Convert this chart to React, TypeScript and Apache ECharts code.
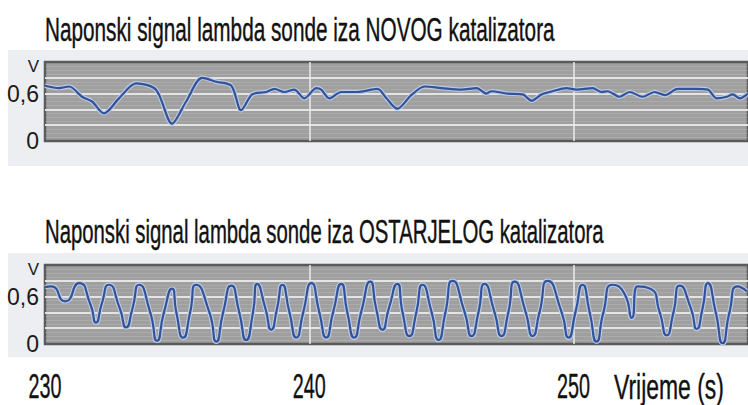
import React, { useEffect, useRef } from 'react';
import * as echarts from 'echarts';

// ---- data ----
const titles = [
  'Naponski signal lambda sonde iza NOVOG katalizatora',
  'Naponski signal lambda sonde iza OSTARJELOG katalizatora',
];
const xAxisName = 'Vrijeme (s)';
const xTickValues = [230, 240, 250];
const xTickLabels = ['230', '240', '250'];
const yTickValues = [0, 0.6, 1];
const yTickLabels = ['0', '0,6', 'V'];
const xMin = 230;
const xMax = 256.6;

// [time s, voltage V] – new catalyst
const newSignal = [
  [230.0, 0.70], [230.53, 0.67], [230.91, 0.69], [231.4, 0.56], [231.78, 0.50], [232.23, 0.35],
  [232.8, 0.54], [233.45, 0.73], [234.2, 0.65], [234.81, 0.22], [235.34, 0.50], [235.95, 0.80],
  [236.48, 0.75], [237.05, 0.70], [237.42, 0.39], [237.84, 0.59], [238.37, 0.62], [238.68, 0.66],
  [239.05, 0.62], [239.43, 0.65], [239.81, 0.54], [240.27, 0.67], [240.45, 0.65], [240.76, 0.54],
  [241.21, 0.62], [241.82, 0.62], [242.58, 0.66], [242.92, 0.54], [243.33, 0.41], [243.86, 0.58],
  [244.36, 0.69], [245.0, 0.67], [245.76, 0.65], [246.33, 0.67], [246.7, 0.60], [246.89, 0.63],
  [247.5, 0.60], [248.07, 0.59], [248.41, 0.51], [248.79, 0.59], [249.2, 0.63], [249.73, 0.67],
  [250.11, 0.65], [250.72, 0.67], [251.06, 0.62], [251.29, 0.63], [251.74, 0.56], [252.12, 0.62],
  [252.61, 0.56], [253.07, 0.62], [253.45, 0.58], [253.94, 0.66], [254.66, 0.66], [255.08, 0.65],
  [255.42, 0.54], [255.8, 0.56], [256.02, 0.59], [256.29, 0.54], [256.6, 0.60],
];

// [time s, voltage V] – aged catalyst
const oldSignal = [
  [230.0, 0.72], [230.23, 0.73], [230.76, 0.54], [231.29, 0.77],
  [231.72, 0.50], [231.93, 0.27], [232.14, 0.50], [232.42, 0.75],
  [232.83, 0.45], [233.07, 0.21], [233.31, 0.45], [233.56, 0.75],
  [233.98, 0.40], [234.24, 0.04], [234.5, 0.40], [234.81, 0.70],
  [234.97, 0.40], [235.23, 0.08], [235.49, 0.40], [235.72, 0.75],
  [236.22, 0.40], [236.48, 0.03], [236.74, 0.40], [237.05, 0.74],
  [237.35, 0.40], [237.61, 0.05], [237.87, 0.40], [238.03, 0.76],
  [238.34, 0.45], [238.56, 0.18], [238.78, 0.45], [238.98, 0.75],
  [239.25, 0.40], [239.51, 0.08], [239.77, 0.40], [240.08, 0.77],
  [240.38, 0.40], [240.64, 0.08], [240.9, 0.40], [241.21, 0.76],
  [241.44, 0.40], [241.7, 0.08], [241.96, 0.40], [242.31, 0.79],
  [242.53, 0.45], [242.77, 0.18], [243.01, 0.45], [243.33, 0.76],
  [243.53, 0.40], [243.79, 0.10], [244.05, 0.40], [244.28, 0.75],
  [244.63, 0.40], [244.89, 0.05], [245.15, 0.40], [245.42, 0.80],
  [245.88, 0.40], [246.14, 0.10], [246.4, 0.40], [246.63, 0.76],
  [247.01, 0.40], [247.27, 0.10], [247.53, 0.40], [247.77, 0.79],
  [248.19, 0.40], [248.45, 0.10], [248.71, 0.40], [249.02, 0.80],
  [249.55, 0.40], [249.81, 0.08], [250.07, 0.40], [250.34, 0.75],
  [250.61, 0.40], [250.87, 0.03], [251.13, 0.40], [251.48, 0.75],
  [251.95, 0.62], [252.2, 0.33], [252.42, 0.73], [252.9, 0.70],
  [253.26, 0.40], [253.52, 0.11], [253.78, 0.40], [254.02, 0.74],
  [254.44, 0.45], [254.66, 0.19], [254.88, 0.45], [255.08, 0.77],
  [255.38, 0.40], [255.64, 0.01], [255.9, 0.40], [256.21, 0.73],
  [256.55, 0.67],
];

// ---- helpers ----
const FONT = '"Liberation Sans", Arial, Helvetica, sans-serif';

function measure(text: string, size: number): number {
  const c = document.createElement('canvas');
  const ctx = c.getContext('2d');
  if (!ctx) return text.length * size * 0.5;
  ctx.font = `${size}px ${FONT}`;
  return ctx.measureText(text).width;
}

function yFormatter(v: number): string {
  const i = yTickValues.findIndex((t) => Math.abs(t - v) < 1e-6);
  if (i < 0) return '';
  const s = yTickLabels[i];
  return s === 'V' ? '{u|' + s + '}' : s;
}

const GRID_BG = '#9f9f9f';
const BORDER = '#5a5a5a';
const GRIDLINE = '#e4e4e4';

function makeGrid(top: number) {
  return {
    left: 45,
    right: 0,
    top,
    height: 79,
    show: true,
    backgroundColor: GRID_BG,
    borderColor: BORDER,
    borderWidth: 2.5,
  };
}

function makeX(gridIndex: number) {
  return {
    type: 'value',
    gridIndex,
    min: xMin,
    max: xMax,
    interval: 10,
    axisLine: { show: false },
    axisTick: { show: false },
    axisLabel: { show: false },
    splitLine: {
      show: true,
      showMinLine: false,
      showMaxLine: false,
      lineStyle: { color: '#ececec', width: 1.5 },
    },
  };
}

function makeY(gridIndex: number) {
  return {
    type: 'value',
    gridIndex,
    min: 0,
    max: 1,
    interval: 0.2,
    axisLine: { show: false },
    axisTick: { show: false },
    axisLabel: {
      show: true,
      margin: 6,
      formatter: yFormatter,
      color: '#1a1a1a',
      fontSize: 23,
      fontFamily: FONT,
      showMinLabel: true,
      showMaxLabel: true,
      rich: {
        u: { fontSize: 17, fontFamily: FONT, color: '#1a1a1a', padding: [8, 0, 0, 0] },
      },
    },
    splitLine: {
      show: true,
      showMinLine: false,
      showMaxLine: false,
      lineStyle: { color: GRIDLINE, width: 2 },
    },
    minorTick: { show: false, splitNumber: 4 },
    minorSplitLine: { show: true, lineStyle: { color: 'rgba(255,255,255,0.13)', width: 1 } },
  };
}

function lineSeries(idx: number, data: number[][], smooth: number) {
  return [
    {
      type: 'line',
      xAxisIndex: idx,
      yAxisIndex: idx,
      data,
      smooth,
      showSymbol: false,
      lineStyle: { color: '#bccae2', width: 4.5 },
      silent: true,
      z: 2,
    },
    {
      type: 'line',
      xAxisIndex: idx,
      yAxisIndex: idx,
      data,
      smooth,
      showSymbol: false,
      lineStyle: { color: '#32529a', width: 2.2 },
      z: 3,
    },
  ];
}

function textEl(text: string, x: number, y: number, size: number, scaleX: number, align: string) {
  return {
    type: 'text',
    x,
    y,
    scaleX,
    z: 10,
    style: {
      text,
      fontSize: size,
      fontFamily: FONT,
      fill: '#111111',
      stroke: '#111111',
      lineWidth: 0.4,
      textAlign: align,
      align,
      textVerticalAlign: 'middle',
      verticalAlign: 'middle',
    },
  };
}

export default function App() {
  const ref = useRef<HTMLDivElement>(null);
  useEffect(() => {
    if (!ref.current) return;
    const chart = echarts.init(ref.current, null, { renderer: 'svg' });
    chart.setOption({
      animation: false,
      backgroundColor: '#ffffff',
      grid: [makeGrid(62), makeGrid(265)],
      xAxis: [makeX(0), makeX(1)],
      yAxis: [makeY(0), makeY(1)],
      series: [...lineSeries(0, newSignal, 0.3), ...lineSeries(1, oldSignal, 0.65)],
    });

    const graphics: any[] = [];
    // light panels behind the plots
    graphics.push({ type: 'rect', z: -5, shape: { x: 8, y: 50, width: 740, height: 116 }, style: { fill: '#eceef1' } });
    graphics.push({ type: 'rect', z: -5, shape: { x: 8, y: 253, width: 740, height: 104 }, style: { fill: '#eceef1' } });

    // titles
    const titleSize = 33;
    const titleBoxes = [
      { x: 45, y: 30, w: 510 },
      { x: 45, y: 232, w: 559 },
    ];
    titles.forEach((t, i) => {
      const b = titleBoxes[i];
      graphics.push(textEl(t, b.x, b.y, titleSize, b.w / measure(t, titleSize), 'left'));
    });

    // x tick labels (positioned through the bottom x axis scale)
    const tickSize = 36;
    const tickY = 386;
    xTickValues.forEach((v, i) => {
      const px = chart.convertToPixel({ xAxisIndex: 1 }, v) as number;
      const label = xTickLabels[i];
      graphics.push(textEl(label, px, tickY, tickSize, 33 / measure(label, tickSize), 'center'));
    });
    graphics.push(textEl(xAxisName, 614, tickY, tickSize, 110 / measure(xAxisName, tickSize), 'left'));

    chart.setOption({ graphic: graphics });
    return () => chart.dispose();
  }, []);
  return (
    <div
      ref={ref}
      style={{ position: 'fixed', left: 0, top: 0, width: 748, height: 405, background: '#ffffff' }}
    />
  );
}
